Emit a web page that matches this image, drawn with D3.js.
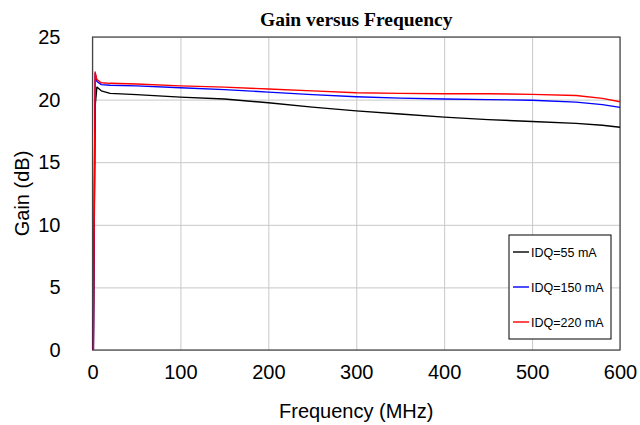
<!DOCTYPE html>
<html>
<head>
<meta charset="utf-8">
<script src="https://cdn.jsdelivr.net/npm/d3@7"></script>
<style>
body { margin: 0; background: #fff; }
svg { display: block; }
</style>
</head>
<body>
<svg id="chart" width="640" height="425"></svg>
<script>
// values
var freq = [1, 3, 5, 10, 20, 50, 100, 150, 200, 250, 300, 350, 400, 450, 500, 550, 580, 600];
var gain_55 = [0, 19.5, 21.0, 20.7, 20.5, 20.4, 20.2, 20.05, 19.75, 19.4, 19.1, 18.85, 18.6, 18.4, 18.25, 18.1, 17.95, 17.79];
var gain_150 = [0, 22.1, 21.45, 21.2, 21.15, 21.1, 20.95, 20.8, 20.6, 20.4, 20.23, 20.12, 20.05, 20.0, 19.95, 19.8, 19.6, 19.38];
var gain_220 = [0, 22.2, 21.6, 21.35, 21.3, 21.25, 21.1, 21.0, 20.85, 20.7, 20.55, 20.5, 20.47, 20.47, 20.42, 20.33, 20.1, 19.83];
var series_names = ["IDQ=55 mA", "IDQ=150 mA", "IDQ=220 mA"];
var x_ticks = [0, 100, 200, 300, 400, 500, 600];
var y_ticks = [0, 5, 10, 15, 20, 25];

var colors = ["#000000", "#0000ff", "#ff0000"];
var sans = "'Liberation Sans', Arial, sans-serif";
var serif = "'Liberation Serif', 'Times New Roman', serif";

var svg = d3.select('svg#chart');
var p_left = 92.5, p_right = 620, p_top = 37, p_bottom = 350;

var x = d3.scaleLinear().domain([0, 600]).range([p_left, p_right]);
var y = d3.scaleLinear().domain([0, 25]).range([p_bottom, p_top]);

// grid
svg.append('g')
    .attr('transform', 'translate(0,' + p_bottom + ')')
    .call(d3.axisBottom(x).tickValues(x_ticks).tickSize(p_top - p_bottom).tickFormat(''))
    .call(function(g){ g.select('.domain').remove(); })
    .selectAll('line').attr('stroke', '#c8c8c8').attr('stroke-width', 1);
svg.append('g')
    .attr('transform', 'translate(' + p_left + ',0)')
    .call(d3.axisLeft(y).tickValues(y_ticks).tickSize(p_left - p_right).tickFormat(''))
    .call(function(g){ g.select('.domain').remove(); })
    .selectAll('line').attr('stroke', '#c8c8c8').attr('stroke-width', 1);

// frame
svg.append('rect')
    .attr('x', p_left).attr('y', p_top)
    .attr('width', p_right - p_left).attr('height', p_bottom - p_top)
    .attr('fill', 'none').attr('stroke', '#444').attr('stroke-width', 1.2);

// tick labels
var xa = svg.append('g')
    .attr('transform', 'translate(0,' + p_bottom + ')')
    .call(d3.axisBottom(x).tickValues(x_ticks).tickSize(0).tickPadding(15));
xa.select('.domain').remove();
xa.attr('font-family', null).attr('font-size', null);
xa.selectAll('text').attr('font-family', sans).attr('font-size', 20).attr('fill', '#000');

var ya = svg.append('g')
    .attr('transform', 'translate(' + p_left + ',0)')
    .call(d3.axisLeft(y).tickValues(y_ticks).tickSize(0).tickPadding(32));
ya.select('.domain').remove();
ya.attr('font-family', null).attr('font-size', null);
ya.selectAll('text').attr('font-family', sans).attr('font-size', 20).attr('fill', '#000');

// lines
var all = [gain_55, gain_150, gain_220];
var line = d3.line()
    .x(function(d, i){ return x(freq[i]); })
    .y(function(d){ return y(d); });
all.forEach(function(vals, k){
    svg.append('path')
        .attr('d', line(vals))
        .attr('fill', 'none')
        .attr('stroke', colors[k])
        .attr('stroke-width', 1.4)
        .attr('stroke-linejoin', 'round');
});

// title and axis labels
svg.append('text')
    .attr('x', (p_left + p_right) / 2).attr('y', 26)
    .attr('text-anchor', 'middle')
    .attr('font-family', serif).attr('font-weight', 'bold').attr('font-size', 19.5)
    .text('Gain versus Frequency');
svg.append('text')
    .attr('x', (p_left + p_right) / 2).attr('y', 418)
    .attr('text-anchor', 'middle')
    .attr('font-family', sans).attr('font-size', 20)
    .text('Frequency (MHz)');
svg.append('text')
    .attr('transform', 'translate(29,' + ((p_top + p_bottom) / 2) + ') rotate(-90)')
    .attr('text-anchor', 'middle')
    .attr('font-family', sans).attr('font-size', 20)
    .text('Gain (dB)');

// legend
var lg = svg.append('g').attr('transform', 'translate(509,235)');
lg.append('rect')
    .attr('width', 102).attr('height', 104)
    .attr('fill', '#fff').attr('stroke', '#000').attr('stroke-width', 1);
series_names.forEach(function(name, k){
    var ly = 17 + k * 35;
    lg.append('line')
        .attr('x1', 4).attr('x2', 20).attr('y1', ly).attr('y2', ly)
        .attr('stroke', colors[k]).attr('stroke-width', 1.4);
    lg.append('text')
        .attr('x', 22).attr('y', ly + 4.5)
        .attr('font-family', sans).attr('font-size', 12.5)
        .text(name);
});
</script>
</body>
</html>
